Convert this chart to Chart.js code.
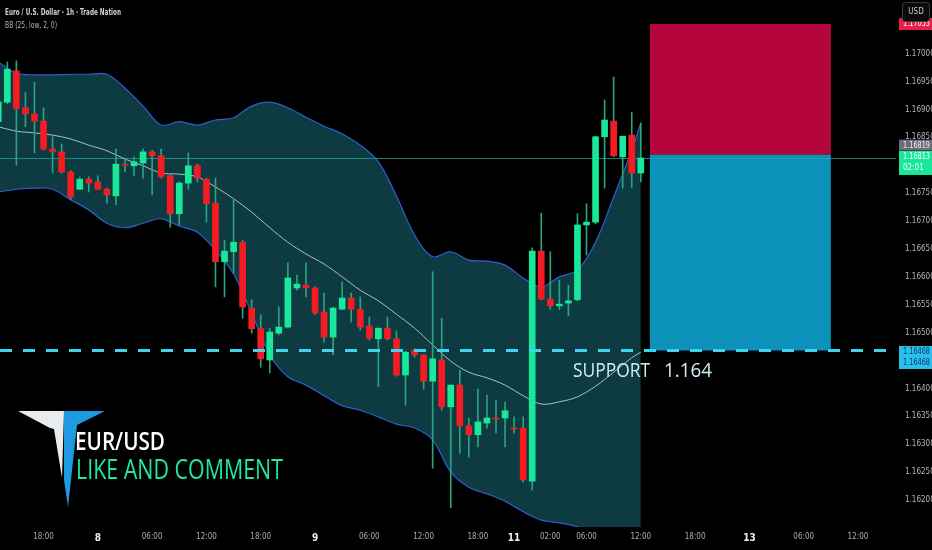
<!DOCTYPE html>
<html>
<head>
<meta charset="utf-8">
<script src="https://cdn.jsdelivr.net/npm/chart.js@4.4.1/dist/chart.umd.min.js"></script>
<style>
  html, body { margin: 0; padding: 0; background: #000; overflow: hidden; }
  #wrap { width: 932px; height: 550px; position: relative; }
</style>
</head>
<body>
<div id="wrap"><canvas id="chart" width="932" height="550"></canvas></div>
<script>
// EUR/USD 1h candles (one per hour slot)
const opens = [1.16878,1.16913,1.16969,1.16903,1.16892,1.16879,1.16829,1.16824,1.16788,1.16757,
  1.16775,1.16770,1.16757,1.16745,1.16802,1.16799,1.16804,1.16824,1.16817,1.16781,
  1.16713,1.16768,1.16799,1.16775,1.16732,1.16627,1.16645,1.16662,1.16544,1.16507,
  1.16451,1.16499,1.16510,1.16580,1.16585,1.16580,1.16537,1.16492,1.16542,1.16562,
  1.16542,1.16512,1.16489,1.16508,1.16489,1.16424,1.16469,1.16460,1.16413,1.16451,
  1.16367,1.16406,1.16333,1.16317,1.16338,1.16347,1.16347,1.16329,1.16329,1.16234,
  1.16646,1.16560,1.16548,1.16553,1.16559,1.16693,1.16698,1.16851,1.16879,1.16815,
  1.16854,1.16786];
const highs = [1.16924,1.16985,1.16987,1.16931,1.16949,1.16903,1.16851,1.16838,1.16790,1.16779,
  1.16779,1.16781,1.16759,1.16829,1.16813,1.16815,1.16829,1.16827,1.16829,1.16783,
  1.16770,1.16822,1.16802,1.16777,1.16777,1.16666,1.16738,1.16666,1.16559,1.16532,
  1.16508,1.16546,1.16625,1.16603,1.16625,1.16582,1.16571,1.16546,1.16591,1.16571,
  1.16564,1.16528,1.16508,1.16528,1.16503,1.16467,1.16471,1.16460,1.16609,1.16526,
  1.16406,1.16433,1.16347,1.16399,1.16388,1.16379,1.16376,1.16349,1.16349,1.16652,
  1.16714,1.16645,1.16594,1.16585,1.16713,1.16731,1.16852,1.16917,1.16958,1.16852,
  1.16895,1.16876];
const lows = [1.16870,1.16910,1.16800,1.16869,1.16822,1.16827,1.16786,1.16786,1.16738,1.16756,
  1.16752,1.16756,1.16732,1.16729,1.16788,1.16781,1.16777,1.16747,1.16777,1.16689,
  1.16693,1.16757,1.16770,1.16698,1.16582,1.16564,1.16607,1.16526,1.16499,1.16438,
  1.16428,1.16496,1.16508,1.16576,1.16564,1.16532,1.16483,1.16460,1.16541,1.16519,
  1.16505,1.16487,1.16403,1.16487,1.16422,1.16370,1.16456,1.16399,1.16257,1.16361,
  1.16186,1.16284,1.16277,1.16295,1.16329,1.16320,1.16295,1.16320,1.16232,1.16218,
  1.16559,1.16542,1.16541,1.16530,1.16557,1.16639,1.16695,1.16759,1.16815,1.16759,
  1.16759,1.16770];
const closes = [1.16913,1.16972,1.16901,1.16892,1.16879,1.16829,1.16824,1.16788,1.16743,1.16775,
  1.16768,1.16757,1.16747,1.16802,1.16800,1.16806,1.16824,1.16817,1.16779,1.16713,
  1.16768,1.16799,1.16777,1.16731,1.16627,1.16646,1.16662,1.16546,1.16507,1.16453,
  1.16501,1.16510,1.16598,1.16587,1.16580,1.16535,1.16492,1.16544,1.16562,1.16542,
  1.16510,1.16490,1.16508,1.16489,1.16424,1.16465,1.16460,1.16413,1.16453,1.16367,
  1.16406,1.16333,1.16317,1.16340,1.16347,1.16345,1.16360,1.16327,1.16236,1.16646,
  1.16560,1.16548,1.16551,1.16557,1.16693,1.16698,1.16851,1.16881,1.16817,1.16852,
  1.16786,1.16813];

// Bollinger bands BB(25, low, 2, 0), read at every second candle
const bandIdx = [0,2,4,6,8,10,12,14,16,18,20,22,24,26,28,30,32,34,36,38,40,42,44,46,48,50,52,54,56,58,60,62,64,66,68,70,71];
const bbUpper = [1.16985,1.16965,1.16962,1.16962,1.16963,1.16963,1.16963,1.16938,1.16906,1.16872,
  1.16878,1.16872,1.16881,1.16885,1.16906,1.16913,1.16903,1.16886,1.16870,1.16856,
  1.16836,1.16806,1.16745,1.16675,1.16636,1.16645,1.16630,1.16628,1.16621,1.16598,
  1.16582,1.16600,1.16612,1.16662,1.16743,1.16827,1.16876];
const bbMiddle = [1.16869,1.16861,1.16858,1.16854,1.16847,1.16836,1.16826,1.16811,1.16799,1.16786,
  1.16784,1.16779,1.16761,1.16740,1.16716,1.16688,1.16662,1.16641,1.16623,1.16600,
  1.16576,1.16557,1.16533,1.16508,1.16478,1.16449,1.16429,1.16419,1.16406,1.16387,
  1.16372,1.16376,1.16385,1.16404,1.16429,1.16455,1.16465];
const bbLower = [1.16752,1.16757,1.16759,1.16757,1.16738,1.16720,1.16696,1.16688,1.16696,1.16704,
  1.16691,1.16680,1.16648,1.16605,1.16535,1.16460,1.16421,1.16406,1.16387,1.16369,
  1.16361,1.16349,1.16336,1.16329,1.16308,1.16250,1.16223,1.16211,1.16198,1.16179,
  1.16164,1.16159,1.16152,1.16137,1.16120,1.16102,1.16093];

// time axis
const tickIdx = [5,11,17,23,29,35,41,47,53,57,61,65,71,77,83,89,95];
const timeLabels = ['18:00','8','06:00','12:00','18:00','9','06:00','12:00','18:00','11','02:00','06:00','12:00','18:00','13','06:00','12:00'];
const dayLabels = ['8','9','11','13'];

// position tool (short) and levels
const positionSpan = [72, 92];
const stopPrice = 1.17053;
const entryPrice = 1.16819;
const targetPrice = 1.16468;
const lastPrice = 1.16813;
const supportLevel = 1.16468;

const upColor = '#19e89b';
const downColor = '#f41c22';
const wickColor = '#2aa37f';
const bandFill = '#0d3b41';
const narrow = "'Liberation Sans Narrow', 'DejaVu Sans Condensed', sans-serif";

const idx = opens.map((_, i) => i);
const wickData = idx.map(i => ({ x: i, y: [lows[i], highs[i]] }));
const bodyData = idx.map(i => ({ x: i, y: [opens[i], closes[i]] }));
const bodyColors = idx.map(i => closes[i] >= opens[i] ? upColor : downColor);

function priceLabel(c, top, h, lines, bg, fg) {
  c.fillStyle = bg;
  c.fillRect(899, top, 33, h);
  c.fillStyle = fg;
  c.font = '8px ' + narrow;
  c.textAlign = 'left';
  c.textBaseline = 'middle';
  lines.forEach((t, k) => c.fillText(t, 903, top + 6 + k * 11, 27));
}

const overlay = {
  id: 'overlay',
  beforeDraw(chart) {
    const c = chart.ctx;
    c.save();
    c.fillStyle = '#000';
    c.fillRect(0, 0, chart.width, chart.height);
    c.restore();
  },
  beforeDatasetsDraw(chart) {
    const c = chart.ctx, xs = chart.scales.x, ys = chart.scales.y, a = chart.chartArea;
    c.save();
    const x0 = xs.getPixelForValue(positionSpan[0]);
    const x1 = xs.getPixelForValue(positionSpan[1]);
    const yStop = ys.getPixelForValue(stopPrice);
    const yEntry = ys.getPixelForValue(entryPrice);
    const yTarget = ys.getPixelForValue(targetPrice);
    c.fillStyle = '#b4063d';
    c.fillRect(x0, yStop, x1 - x0, yEntry - yStop);
    c.fillStyle = '#0c92ba';
    c.fillRect(x0, yEntry, x1 - x0, yTarget - yEntry);
    // last price line
    const yLast = ys.getPixelForValue(lastPrice);
    c.strokeStyle = 'rgba(38,170,140,0.75)';
    c.lineWidth = 1;
    c.beginPath();
    c.moveTo(a.left, Math.round(yLast) + 0.5);
    c.lineTo(a.right, Math.round(yLast) + 0.5);
    c.stroke();
    c.restore();
  },
  afterDraw(chart) {
    const c = chart.ctx, ys = chart.scales.y, a = chart.chartArea;
    c.save();
    // support dashed line
    const ySup = ys.getPixelForValue(supportLevel);
    c.strokeStyle = '#3fd3ee';
    c.lineWidth = 3;
    c.setLineDash([12, 11]);
    c.beginPath();
    c.moveTo(a.left, ySup);
    c.lineTo(a.right, ySup);
    c.stroke();
    c.setLineDash([]);

    // support text
    c.fillStyle = '#cdeff3';
    c.font = '20px "Open Sans", sans-serif';
    c.textBaseline = 'alphabetic';
    c.textAlign = 'left';
    c.fillText('SUPPORT', 573, 377, 77);
    c.fillText('1.164', 664, 377, 48);

    // logo
    c.fillStyle = '#e9ecef';
    c.beginPath();
    c.moveTo(18, 411); c.lineTo(64, 411); c.lineTo(62, 478); c.lineTo(54, 429); c.lineTo(50, 428);
    c.closePath(); c.fill();
    c.fillStyle = '#1e9be0';
    c.beginPath();
    c.moveTo(64, 411); c.lineTo(105, 411); c.lineTo(77, 425); c.lineTo(68, 507); c.lineTo(64, 480);
    c.closePath(); c.fill();

    c.fillStyle = '#ffffff';
    c.font = '600 26px "Open Sans", sans-serif';
    c.fillText('EUR/USD', 75, 450, 90);
    c.fillStyle = '#1fe8a0';
    c.font = '27px "Open Sans", sans-serif';
    c.fillText('LIKE AND COMMENT', 76, 479, 207);

    // header
    c.fillStyle = '#d1d4dc';
    c.font = 'bold 9px ' + narrow;
    c.textBaseline = 'middle';
    c.fillText('Euro / U.S. Dollar · 1h · Trade Nation', 5, 13, 116);
    c.fillStyle = '#b2b5be';
    c.font = '9px ' + narrow;
    c.fillText('BB (25, low, 2, 0)', 5, 26, 52);

    // axis labels on the right
    const yEntry = ys.getPixelForValue(entryPrice);
    const yLast = ys.getPixelForValue(lastPrice);
    const yStop = ys.getPixelForValue(stopPrice);
    priceLabel(c, yStop - 6, 12, [stopPrice.toFixed(5)], '#e91e4e', '#ffffff');
    priceLabel(c, yEntry - 15, 11, [entryPrice.toFixed(5)], '#6a6d78', '#f0f0f0');
    priceLabel(c, yLast - 7, 24, [lastPrice.toFixed(5), '02:01'], upColor, '#f4fffa');
    priceLabel(c, ySup - 4.5, 11, [supportLevel.toFixed(5)], '#2bbfee', '#0d3a55');
    priceLabel(c, ySup + 6.5, 12, [targetPrice.toFixed(5)], '#2bbfee', '#0d3a55');

    // currency button
    c.fillStyle = '#0b0b0b';
    c.strokeStyle = '#3a3d45';
    c.lineWidth = 1;
    c.beginPath();
    c.roundRect(902.5, 2.5, 27, 19, 3);
    c.fill(); c.stroke();
    c.fillStyle = '#c8cbd2';
    c.font = '8px ' + narrow;
    c.textAlign = 'center';
    c.fillText('USD', 916, 12);
    c.restore();
  }
};

new Chart(document.getElementById('chart'), {
  type: 'bar',
  data: {
    datasets: [
      {
        type: 'line', label: 'BB upper',
        data: bandIdx.map((x, k) => ({ x, y: bbUpper[k] })),
        borderColor: '#2f5fd0', borderWidth: 1.2, pointRadius: 0, tension: 0.35,
        fill: { target: 2, above: bandFill, below: bandFill }, order: 5
      },
      {
        type: 'line', label: 'BB basis',
        data: bandIdx.map((x, k) => ({ x, y: bbMiddle[k] })),
        borderColor: '#a6c2c4', borderWidth: 1, pointRadius: 0, tension: 0.35,
        fill: false, order: 4
      },
      {
        type: 'line', label: 'BB lower',
        data: bandIdx.map((x, k) => ({ x, y: bbLower[k] })),
        borderColor: '#2f5fd0', borderWidth: 1.2, pointRadius: 0, tension: 0.35,
        fill: false, order: 6
      },
      {
        label: 'wicks', data: wickData, backgroundColor: wickColor,
        barThickness: 1, grouped: false, minBarLength: 1, order: 2
      },
      {
        label: 'bodies', data: bodyData, backgroundColor: bodyColors,
        barThickness: 6, grouped: false, minBarLength: 1, order: 1
      }
    ]
  },
  options: {
    responsive: false,
    maintainAspectRatio: false,
    animation: false,
    layout: { padding: 0 },
    plugins: {
      legend: { display: false },
      tooltip: { enabled: false },
      filler: { drawTime: 'beforeDatasetsDraw' }
    },
    scales: {
      x: {
        type: 'linear', offset: false, min: 0.19, max: 99.2,
        grid: { display: false, drawTicks: false }, border: { display: false },
        afterFit: s => { s.height = 23; s.paddingLeft = 0; s.paddingRight = 0; },
        afterBuildTicks: s => { s.ticks = tickIdx.map(v => ({ value: v })); },
        ticks: {
          autoSkip: false, maxRotation: 0, padding: 5,
          callback: (v, i) => timeLabels[i],
          color: ctx => dayLabels.includes(timeLabels[ctx.index]) ? '#f0f0f0' : '#a9acb4',
          font: ctx => dayLabels.includes(timeLabels[ctx.index])
            ? { family: narrow, size: 10, weight: 'bold' }
            : { family: narrow, size: 8 }
        }
      },
      y: {
        position: 'right', min: 1.161517, max: 1.170961,
        grid: { display: false, drawTicks: false }, border: { display: false },
        afterFit: s => { s.width = 36; s.paddingTop = 0; s.paddingBottom = 0; },
        ticks: {
          stepSize: 0.0005, includeBounds: false, padding: 9,
          color: '#b4b6bd', font: { family: narrow, size: 8 },
          callback: v => v.toFixed(5)
        }
      }
    }
  },
  plugins: [overlay]
});
</script>
</body>
</html>
